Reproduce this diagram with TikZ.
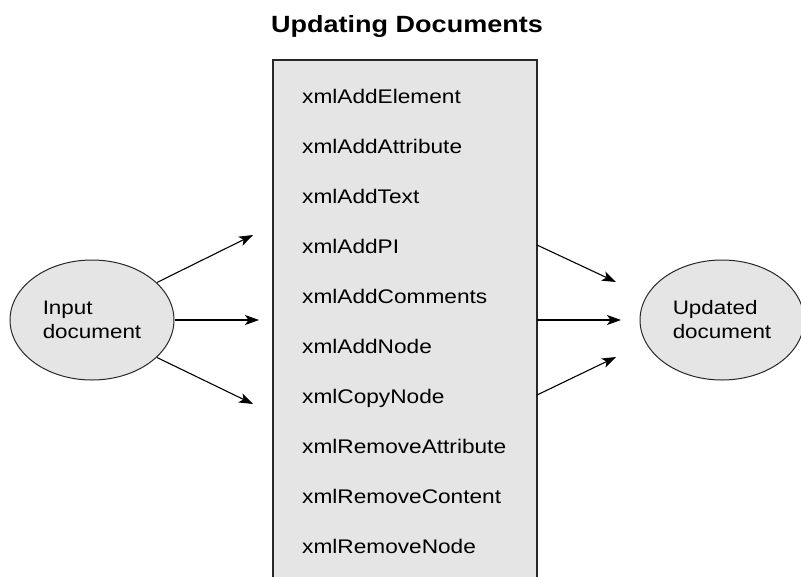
\documentclass[tikz,border=0pt]{standalone}
\usepackage{fontspec}
\setmainfont{Liberation Sans}[FakeStretch=1.15]
\usetikzlibrary{arrows.meta,shapes.geometric}
\definecolor{fillgray}{RGB}{229,229,229}
\definecolor{edgegray}{RGB}{40,40,40}
\begin{document}
\begin{tikzpicture}[x=1pt,y=-1pt,
  docell/.style={ellipse,draw=edgegray,line width=1pt,fill=fillgray,minimum width=164pt,minimum height=120pt,inner sep=0pt,align=left,font=\fontsize{19.5}{24}\selectfont},
  item/.style={anchor=base west,inner sep=0pt,font=\fontsize{19.7}{24}\selectfont},
  flow/.style={line width=1.1pt,-{Stealth[length=14pt,width=10pt,inset=3.5pt]}}]
\useasboundingbox (0,0) rectangle (801,576);
% title
\node[anchor=base,inner sep=0pt,font=\fontsize{23.5}{28}\selectfont\bfseries] (title) at (407,32) {Updating Documents};
% central box
\draw[draw=edgegray,line width=1.2pt,fill=fillgray] (273,600) -- (273,60) -- (537,60) -- (537,600);
\foreach \i/\t in {0/xmlAddElement,1/xmlAddAttribute,2/xmlAddText,3/xmlAddPI,4/xmlAddComments,5/xmlAddNode,6/xmlCopyNode,7/xmlRemoveAttribute,8/xmlRemoveContent,9/xmlRemoveNode}
  \node[item] (f\i) at (302,103+50*\i) {\t};
% ellipses
\node[docell] (in) at (92,320) {Input\\document};
\node[docell] (out) at (722,320) {Updated\\document};
% arrow end points
\coordinate (a1) at (253,235);
\coordinate (a2) at (259,320);
\coordinate (a3) at (253,404);
\coordinate (b1s) at (537,245);
\coordinate (b2s) at (537,320);
\coordinate (b3s) at (537,395);
\coordinate (b1) at (616,282);
\coordinate (b2) at (621,320);
\coordinate (b3) at (616,357);
\draw[flow] (in.30) -- (a1);
\draw[flow] (in.0) -- (a2);
\draw[flow] (in.-30) -- (a3);
\draw[flow] (b1s) -- (b1);
\draw[flow] (b2s) -- (b2);
\draw[flow] (b3s) -- (b3);
\end{tikzpicture}
\end{document}
